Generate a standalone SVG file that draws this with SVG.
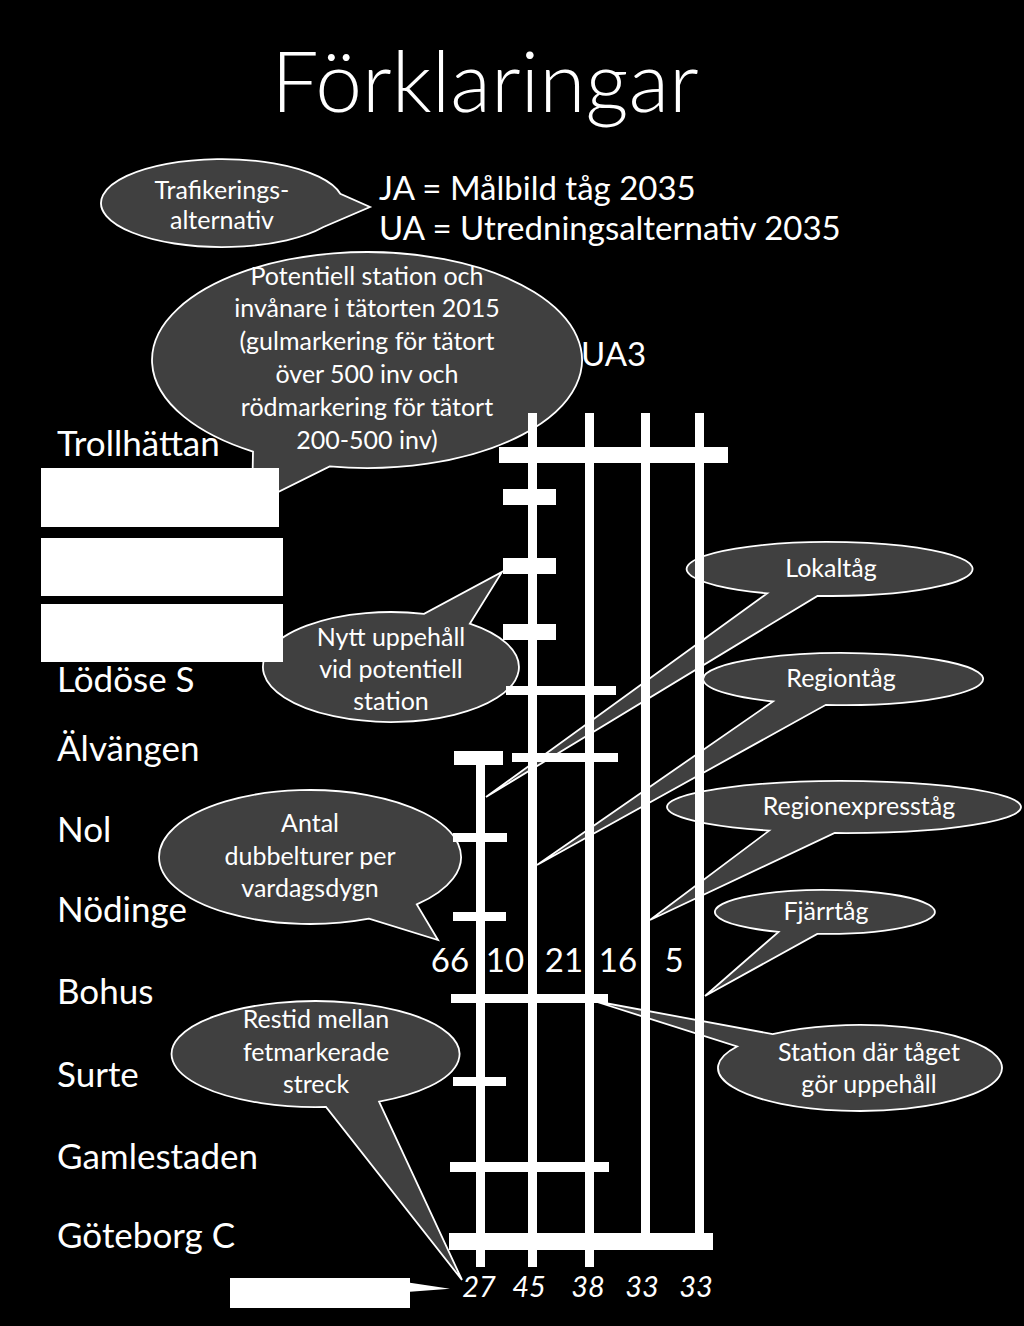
<svg xmlns="http://www.w3.org/2000/svg" width="1024" height="1326" viewBox="0 0 1024 1326">
<style>
.t{font-family:Lato,'Open Sans','Liberation Sans',sans-serif;fill:#fff}
.st{font-size:35px}
.co{font-size:25px;text-anchor:middle}
.cb{fill:#404040;stroke:#fff;stroke-width:1.8;stroke-linejoin:miter}
.w{fill:#fff}
.num{font-size:33px;text-anchor:middle}
.it{font-size:29px;font-style:italic;text-anchor:middle}
</style>
<rect x="0" y="0" width="1024" height="1326" fill="#000"/>

<g id="title">
<text class="t" x="485" y="112" font-size="84" font-weight="300" text-anchor="middle">Förklaringar</text>
</g>
<g id="legend-text">
<text class="t" x="379" y="200" font-size="33">JA = Målbild tåg 2035</text>
<text class="t" x="379" y="240" font-size="33">UA = Utredningsalternativ 2035</text>
<text class="t" x="581" y="366" font-size="33">UA3</text>
</g>

<g id="callout-trafikering">
<path class="cb" d="M 340.3 193.8 A 121 44 0 1 0 323.5 227.0 L 370 207 Z"/>
<text class="t co" x="222" y="199">Trafikerings-</text>
<text class="t co" x="222" y="229">alternativ</text>
</g>
<g id="callout-potentiell">
<path class="cb" d="M 329.7 466.4 A 215 108 0 1 0 253.0 451.6 L 252 505 Z"/>
<text class="t co" x="367" y="285">Potentiell station och</text>
<text class="t co" x="367" y="317">invånare i tätorten 2015</text>
<text class="t co" x="367" y="350">(gulmarkering för tätort</text>
<text class="t co" x="367" y="383">över 500 inv och</text>
<text class="t co" x="367" y="416">rödmarkering för tätort</text>
<text class="t co" x="367" y="449">200-500 inv)</text>
</g>
<g id="callout-nytt">
<path class="cb" d="M 469.8 623.7 A 128 55 0 1 1 424.1 613.9 L 502 572 Z"/>
<text class="t co" x="391" y="646">Nytt uppehåll</text>
<text class="t co" x="391" y="678">vid potentiell</text>
<text class="t co" x="391" y="710">station</text>
</g>
<g id="callout-lokaltag">
<path class="cb" d="M 817.5 595.9 A 143 27 0 1 0 767.3 593.3 L 486 797 Z"/>
<text class="t co" x="831" y="577">Lokaltåg</text>
</g>
<g id="callout-regiontag">
<path class="cb" d="M 825.9 704.8 A 140 26 0 1 0 773 701.5 L 537 865 Z"/>
<text class="t co" x="841" y="687">Regiontåg</text>
</g>
<g id="callout-regionexpress">
<path class="cb" d="M 834.7 833.0 A 177 26 0 1 0 769.2 830.6 L 650 920 Z"/>
<text class="t co" x="859" y="815">Regionexpresståg</text>
</g>
<g id="callout-fjarrtag">
<path class="cb" d="M 817.3 933.9 A 110 22 0 1 0 778.5 931.9 L 705 996 Z"/>
<text class="t co" x="826" y="920">Fjärrtåg</text>
</g>
<g id="callout-antal">
<path class="cb" d="M 416.8 904.4 A 151 67 0 1 0 369.0 918.7 L 438 940 Z"/>
<text class="t co" x="310" y="832">Antal</text>
<text class="t co" x="310" y="865">dubbelturer per</text>
<text class="t co" x="310" y="897">vardagsdygn</text>
</g>
<g id="callout-restid">
<path class="cb" d="M 379.1 1101.6 A 144 53 0 1 0 326.0 1106.9 L 462 1280 Z"/>
<text class="t co" x="316" y="1028">Restid mellan</text>
<text class="t co" x="316" y="1061">fetmarkerade</text>
<text class="t co" x="316" y="1093">streck</text>
</g>
<g id="callout-station">
<path class="cb" d="M 772.6 1034.1 A 142 43 0 1 1 737.0 1046.5 L 594 1001 Z"/>
<text class="t co" x="869" y="1061">Station där tåget</text>
<text class="t co" x="869" y="1093">gör uppehåll</text>
</g>

<g id="tracks" class="w">
<rect x="476" y="751" width="9" height="516"/>
<rect x="528" y="413" width="9" height="854"/>
<rect x="585" y="413" width="9" height="854"/>
<rect x="641" y="413" width="9" height="832"/>
<rect x="695" y="413" width="9" height="832"/>
<rect x="499" y="447" width="229" height="16"/>
<rect x="503" y="489" width="53" height="16"/>
<rect x="503" y="558" width="53" height="16"/>
<rect x="503" y="624" width="53" height="16"/>
<rect x="506" y="686" width="110" height="9"/>
<rect x="454" y="751" width="49" height="14"/>
<rect x="512" y="753" width="106" height="9"/>
<rect x="453" y="833" width="54" height="9"/>
<rect x="453" y="912" width="53" height="9"/>
<rect x="451" y="994" width="157" height="9"/>
<rect x="453" y="1077" width="53" height="9"/>
<rect x="450" y="1162" width="159" height="10"/>
<rect x="449" y="1233" width="264" height="17"/>
</g>

<g id="cover-boxes" class="w">
<rect x="41" y="468" width="238" height="59"/>
<rect x="41" y="538" width="242" height="58"/>
<rect x="41" y="604" width="242" height="58"/>
<path d="M 230 1278 H 410 V 1282.7 L 450 1288.7 L 410 1291.7 V 1308 H 230 Z"/>
</g>

<g id="stations">
<text class="t st" x="57" y="456">Trollhättan</text>
<text class="t st" x="57" y="692">Lödöse S</text>
<text class="t st" x="57" y="761">Älvängen</text>
<text class="t st" x="57" y="842">Nol</text>
<text class="t st" x="57" y="922">Nödinge</text>
<text class="t st" x="57" y="1004">Bohus</text>
<text class="t st" x="57" y="1087">Surte</text>
<text class="t st" x="57" y="1169">Gamlestaden</text>
<text class="t st" x="57" y="1248">Göteborg C</text>
</g>

<g id="frequencies">
<text class="t num" x="450" y="972">66</text>
<text class="t num" x="505" y="972">10</text>
<text class="t num" x="564" y="972">21</text>
<text class="t num" x="618" y="972">16</text>
<text class="t num" x="674" y="972">5</text>
</g>
<g id="traveltimes">
<text class="t it" x="479" y="1297">27</text>
<text class="t it" x="529" y="1297">45</text>
<text class="t it" x="588" y="1297">38</text>
<text class="t it" x="642" y="1297">33</text>
<text class="t it" x="696" y="1297">33</text>
</g>
</svg>
